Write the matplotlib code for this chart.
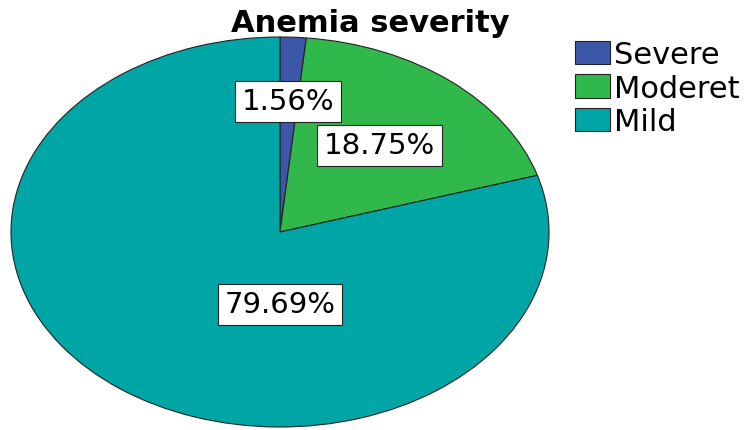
import matplotlib
matplotlib.use("Agg")
from matplotlib import pyplot as plt

categories = ["Severe", "Moderet", "Mild"]
percents = [1.56, 18.75, 79.69]
colors = ["#3c57a8", "#30b84b", "#00a5a5"]
# label centres in pie data units (radius 1)
label_pos = [(0.03, 0.67), (0.37, 0.445), (0.0, -0.37)]

W, H = 756, 431
fig = plt.figure(figsize=(W / 100, H / 100), dpi=100)

# ellipse spans x 11..549 and y 38..428 in pixels
ax = fig.add_axes([11 / W, (H - 428) / H, 538 / W, 390 / H])
wedges, _ = ax.pie(percents, colors=colors, startangle=90, counterclock=False,
                   radius=1, wedgeprops=dict(edgecolor="#222222", linewidth=0.8))
ax.set_aspect("auto")
ax.set_xlim(-1, 1)
ax.set_ylim(-1, 1)

for (x, y), p in zip(label_pos, percents):
    ax.text(x, y, f"{p:.2f}%", ha="center", va="center", fontsize=21,
            bbox=dict(boxstyle="square,pad=0.22", facecolor="white",
                      edgecolor="#222222", linewidth=0.8))

fig.text(370 / W, 1 - 23 / H, "Anemia severity", ha="center", va="center",
         fontsize=22, fontweight="bold")

fig.legend(wedges, categories, loc="upper left",
           bbox_to_anchor=(575 / W, 1 - 41 / H), bbox_transform=fig.transFigure,
           frameon=False, fontsize=22, handlelength=1.15, handleheight=0.8,
           handletextpad=0.12, labelspacing=0.15, borderpad=0, borderaxespad=0)

fig.savefig("out.png", dpi=100)
